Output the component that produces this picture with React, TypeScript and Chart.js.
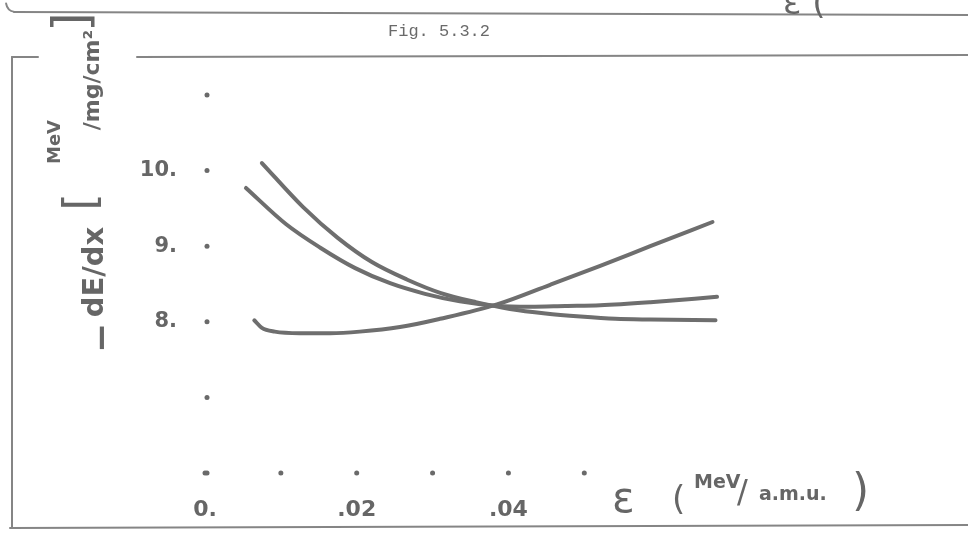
import React, { useEffect, useRef } from "react";
import { Chart, registerables } from "chart.js";

Chart.register(...registerables);

// Axis ticks (dots) and their hand-written labels
const X_TICKS = [0, 0.01, 0.02, 0.03, 0.04, 0.05];
const X_TICK_LABELS = ["0.", "", ".02", "", ".04", ""];
const Y_TICKS = [6, 7, 8, 9, 10, 11];
const Y_TICK_LABELS = ["", "", "8.", "9.", "10.", ""];

// Steepest falling curve
const CURVE_A_X = [0.0075, 0.0129, 0.0175, 0.022, 0.0266, 0.0311, 0.0357, 0.0402, 0.0449, 0.0495, 0.0541, 0.0587, 0.0673];
const CURVE_A_Y = [10.1, 9.52, 9.11, 8.79, 8.56, 8.38, 8.26, 8.17, 8.11, 8.07, 8.04, 8.03, 8.02];
// Gentler falling curve, flattening and rising slightly
const CURVE_B_X = [0.0054, 0.0107, 0.0152, 0.0198, 0.0244, 0.029, 0.0336, 0.0385, 0.0429, 0.0475, 0.0521, 0.0587, 0.0675];
const CURVE_B_Y = [9.77, 9.29, 8.98, 8.71, 8.51, 8.37, 8.27, 8.21, 8.2, 8.21, 8.22, 8.26, 8.33];
// Rising curve
const CURVE_C_X = [0.0065, 0.0075, 0.0092, 0.0125, 0.0165, 0.0204, 0.0257, 0.031, 0.0385, 0.0455, 0.0521, 0.0587, 0.0669];
const CURVE_C_Y = [8.02, 7.92, 7.87, 7.85, 7.85, 7.87, 7.93, 8.04, 8.23, 8.49, 8.74, 9.0, 9.32];

const INK = "#666666";
const CURVE_INK = "#6e6e6e";
const RULE_INK = "#858585";
const HAND = "'DejaVu Sans', sans-serif";

const toPoints = (xs: number[], ys: number[]) => xs.map((x, i) => ({ x, y: ys[i] }));

const rotatedText = (
  ctx: CanvasRenderingContext2D,
  text: string,
  cx: number,
  cy: number,
  font: string
) => {
  ctx.save();
  ctx.translate(cx, cy);
  ctx.rotate(-Math.PI / 2);
  ctx.font = font;
  ctx.textAlign = "center";
  ctx.textBaseline = "middle";
  ctx.fillText(text, 0, 0);
  ctx.restore();
};

const sheetPlugin = {
  id: "sheet",
  beforeDraw(chart: any) {
    const { ctx, width, height } = chart;
    ctx.save();
    ctx.fillStyle = "#ffffff";
    ctx.fillRect(0, 0, width, height);
    ctx.restore();
  },
  afterDraw(chart: any) {
    const { ctx } = chart;
    const xs = chart.scales.x;
    const ys = chart.scales.y;
    ctx.save();

    // tick dots along both axes
    ctx.fillStyle = "#6a6a6a";
    const y0 = ys.getPixelForValue(Y_TICKS[0]);
    const x0 = xs.getPixelForValue(X_TICKS[0]);
    X_TICKS.forEach((v) => {
      ctx.beginPath();
      ctx.arc(xs.getPixelForValue(v), y0, 2.5, 0, Math.PI * 2);
      ctx.fill();
    });
    Y_TICKS.forEach((v) => {
      ctx.beginPath();
      ctx.arc(x0 + 2, ys.getPixelForValue(v), 2.5, 0, Math.PI * 2);
      ctx.fill();
    });

    // ruled frame of the sheet
    ctx.strokeStyle = RULE_INK;
    ctx.lineWidth = 2;
    ctx.lineCap = "round";
    const seg = (a: number, b: number, c: number, d: number) => {
      ctx.beginPath();
      ctx.moveTo(a, b);
      ctx.lineTo(c, d);
      ctx.stroke();
    };
    seg(14, 12, 968, 15);
    seg(12, 57, 38, 57);
    seg(137, 57, 968, 55);
    seg(12, 57, 12, 527);
    seg(10, 528, 968, 525);
    // corner stroke at the top-left edge
    ctx.beginPath();
    ctx.arc(16, 2, 10, Math.PI * 0.55, Math.PI * 0.95);
    ctx.stroke();

    // caption
    ctx.fillStyle = "#6a6a6a";
    ctx.font = "17px 'Liberation Mono', monospace";
    ctx.textAlign = "left";
    ctx.textBaseline = "alphabetic";
    ctx.fillText("Fig. 5.3.2", 388, 36);

    // y-axis title, written upwards
    ctx.fillStyle = INK;
    rotatedText(ctx, "\u2212", 104, 338, `bold 36px ${HAND}`);
    rotatedText(ctx, "dE/dx", 95, 272, `bold 29px ${HAND}`);
    rotatedText(ctx, "[", 84, 202, `44px ${HAND}`);
    rotatedText(ctx, "MeV", 55, 142, `bold 18px ${HAND}`);
    rotatedText(ctx, "/mg/cm\u00b2", 93, 80, `bold 22px ${HAND}`);
    rotatedText(ctx, "]", 75, 22, `50px ${HAND}`);

    // x-axis title
    ctx.textAlign = "left";
    ctx.textBaseline = "alphabetic";
    ctx.font = `42px ${HAND}`;
    ctx.fillText("\u03b5", 612, 512);
    ctx.font = `34px ${HAND}`;
    ctx.fillText("(", 672, 510);
    ctx.font = `bold 19px ${HAND}`;
    ctx.fillText("MeV", 694, 488);
    ctx.font = `32px ${HAND}`;
    ctx.fillText("/", 737, 502);
    ctx.font = `bold 19px ${HAND}`;
    ctx.fillText("a.m.u.", 759, 500);
    ctx.font = `44px ${HAND}`;
    ctx.fillText(")", 852, 505);

    // cut-off note at the top edge
    ctx.font = `34px ${HAND}`;
    ctx.fillText("\u03b5 (", 783, 14);

    ctx.restore();
  },
};

export default function App() {
  const canvasRef = useRef<HTMLCanvasElement | null>(null);

  useEffect(() => {
    const canvas = canvasRef.current;
    if (!canvas) return;
    const line = (xs: number[], ys: number[]) => ({
      data: toPoints(xs, ys),
      showLine: true,
      borderColor: CURVE_INK,
      borderWidth: 4,
      borderCapStyle: "round" as const,
      pointRadius: 0,
      cubicInterpolationMode: "monotone" as const,
      fill: false,
    });
    const chart = new Chart(canvas, {
      type: "scatter",
      data: {
        datasets: [
          line(CURVE_A_X, CURVE_A_Y),
          line(CURVE_B_X, CURVE_B_Y),
          line(CURVE_C_X, CURVE_C_Y),
        ],
      },
      options: {
        responsive: false,
        animation: false,
        devicePixelRatio: 1,
        layout: { padding: { left: 115, top: 95, right: 232, bottom: 15 } },
        plugins: { legend: { display: false }, tooltip: { enabled: false }, title: { display: false } },
        scales: {
          x: {
            type: "linear",
            min: 0,
            max: 0.07,
            grid: { display: false, drawTicks: false },
            border: { display: false },
            afterBuildTicks: (s: any) => {
              s.ticks = X_TICKS.map((value) => ({ value }));
            },
            afterFit: (s: any) => {
              s.height = 50;
            },
            ticks: {
              autoSkip: false,
              maxRotation: 0,
              padding: 24,
              color: INK,
              font: { family: HAND, size: 22, weight: "bold" },
              callback: (v: any) => X_TICK_LABELS[X_TICKS.indexOf(Number(v))] ?? "",
            },
          },
          y: {
            type: "linear",
            min: 6,
            max: 11,
            grid: { display: false, drawTicks: false },
            border: { display: false },
            afterBuildTicks: (s: any) => {
              s.ticks = Y_TICKS.map((value) => ({ value }));
            },
            afterFit: (s: any) => {
              s.width = 90;
            },
            ticks: {
              autoSkip: false,
              padding: 28,
              color: INK,
              font: { family: HAND, size: 21, weight: "bold" },
              callback: (v: any) => Y_TICK_LABELS[Y_TICKS.indexOf(Number(v))] ?? "",
            },
          },
        },
      },
      plugins: [sheetPlugin],
    });
    return () => chart.destroy();
  }, []);

  return (
    <div style={{ position: "absolute", left: 0, top: 0, width: 968, height: 538, background: "#fff" }}>
      <canvas ref={canvasRef} width={968} height={538} style={{ display: "block", width: 968, height: 538 }} />
    </div>
  );
}
